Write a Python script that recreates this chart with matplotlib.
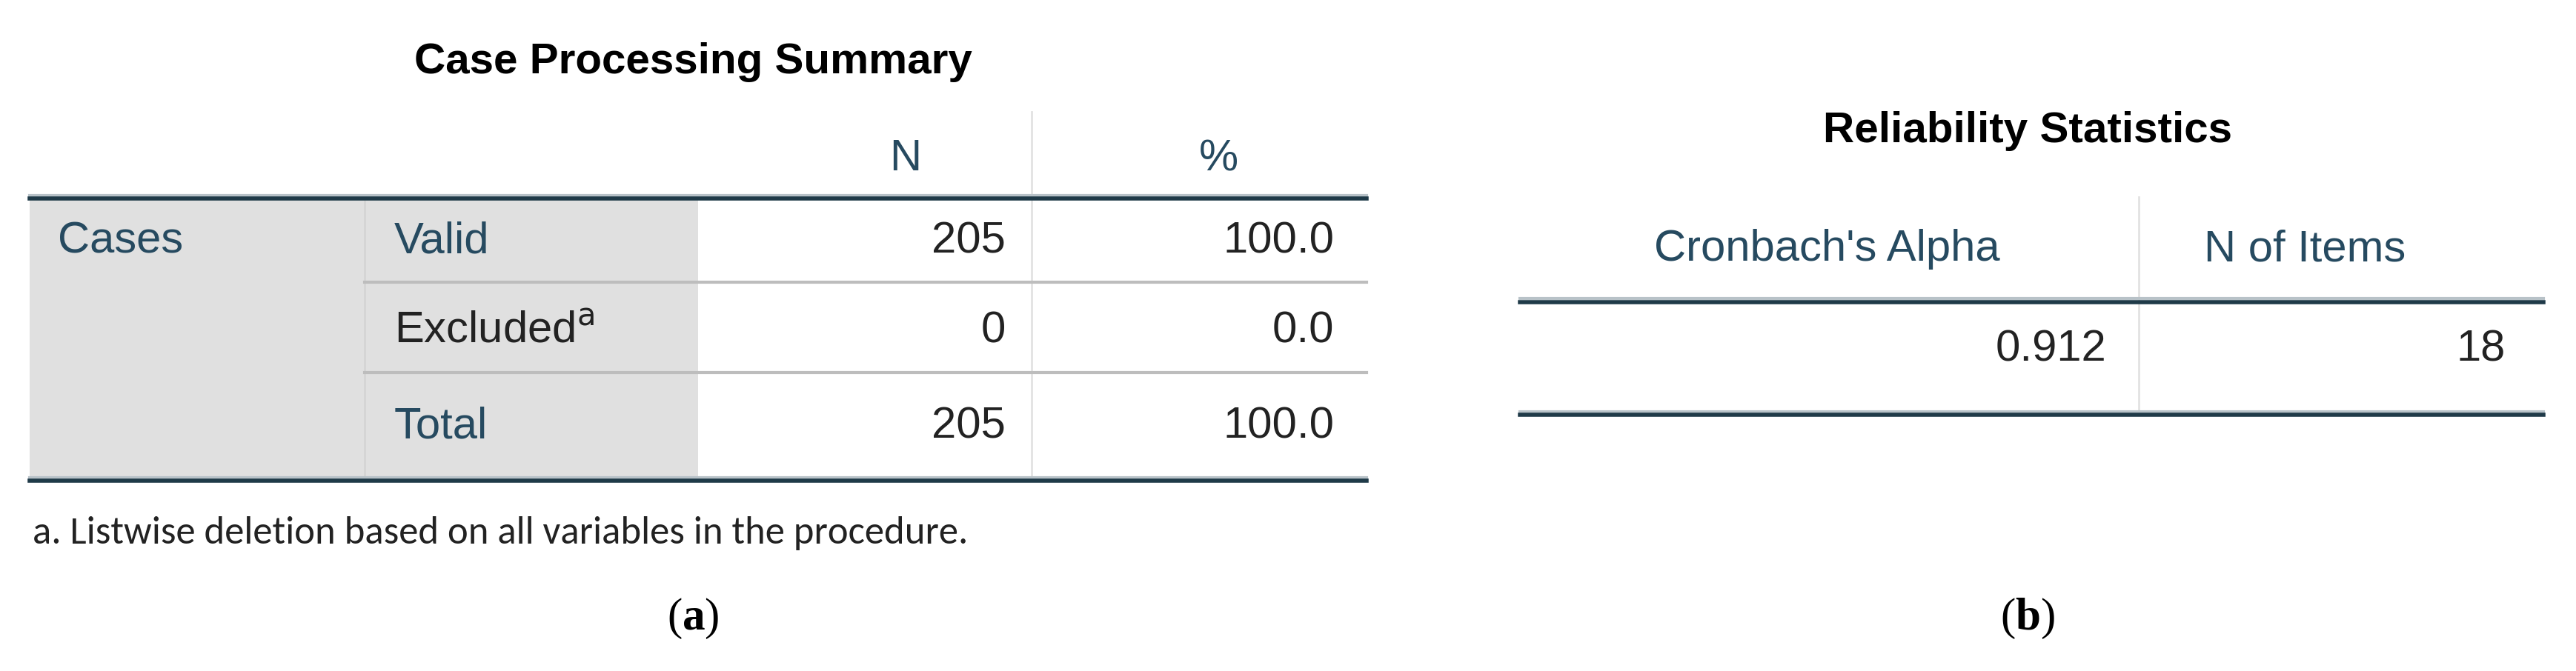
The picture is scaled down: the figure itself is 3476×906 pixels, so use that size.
import matplotlib
matplotlib.use("Agg")
import matplotlib.pyplot as plt
from matplotlib.patches import Rectangle

plt.rcParams['font.family'] = ['Liberation Sans', 'DejaVu Sans']
plt.rcParams['mathtext.fontset'] = 'custom'
plt.rcParams['mathtext.rm'] = 'Liberation Serif'
plt.rcParams['mathtext.bf'] = 'Liberation Serif:bold'

title_a = "Case Processing Summary"
cols_a = ["N", "%"]
row_group = "Cases"
rows_a = ["Valid", "Excluded", "Total"]
n_vals = ["205", "0", "205"]
pct_vals = ["100.0", "0.0", "100.0"]
footnote = "a. Listwise deletion based on all variables in the procedure."
title_b = "Reliability Statistics"
cols_b = ["Cronbach's Alpha", "N of Items"]
vals_b = ["0.912", "18"]

TEAL = "#264a60"
DARK = "#1f3a48"
GRAY = "#e0e0e0"
LINE = "#bdbdbd"

fig = plt.figure(figsize=(34.76, 9.06), dpi=100)
ax = fig.add_axes([0, 0, 1, 1])
ax.set_xlim(0, 1568)
ax.set_ylim(409, 0)
ax.axis('off')

fs = 43
# Panel a
ax.text(422, 38, title_a, ha='center', va='center', fontsize=42, fontweight='bold')
ax.add_patch(Rectangle((18, 120), 425 - 18, 292 - 120, color=GRAY, lw=0))
ax.plot([222, 222], [120, 292], color="#d4d4d4", lw=2)
ax.plot([628, 628], [68, 292], color="#e2e2e2", lw=2)
ax.text(551, 97, cols_a[0], ha='center', va='center', fontsize=fs, color=TEAL)
ax.text(742, 97, cols_a[1], ha='center', va='center', fontsize=fs, color=TEAL)
ax.plot([18, 832], [119, 119], color="#b8c2c8", lw=3)
ax.plot([18, 832], [121, 121], color=DARK, lw=4)
for y in [172, 227]:
    ax.plot([222, 832], [y, y], color=LINE, lw=3)
row_y = [147, 202, 260]
ax.text(35, 147, row_group, ha='left', va='center', fontsize=fs, color=TEAL)
for i, (lab, n, p) in enumerate(zip(rows_a, n_vals, pct_vals)):
    y = row_y[i]
    if lab == "Excluded":
        ax.text(240, y, lab + "$^{\\mathsf{a}}$", ha='left', va='center', fontsize=fs, color='#222222')
    else:
        ax.text(240, y, lab, ha='left', va='center', fontsize=fs, color=TEAL)
    ax.text(612, y, n, ha='right', va='center', fontsize=fs, color='#222222')
    ax.text(812, y, p, ha='right', va='center', fontsize=fs, color='#222222')
ax.plot([18, 832], [291, 291], color="#b8c2c8", lw=3)
ax.plot([18, 832], [293, 293], color=DARK, lw=4)
ax.text(20, 325, footnote, ha='left', va='center', fontsize=38, color='#222222',
        family=['Carlito', 'Liberation Sans', 'DejaVu Sans'])
ax.text(422, 377, r"($\mathbf{a}$)", ha='center', va='center', fontsize=44, family='Liberation Serif')

# Panel b
ax.text(1234, 80, title_b, ha='center', va='center', fontsize=42, fontweight='bold')
ax.plot([1302, 1302], [120, 252], color="#e2e2e2", lw=2)
ax.text(1112, 152, cols_b[0], ha='center', va='center', fontsize=fs, color=TEAL)
ax.text(1403, 152, cols_b[1], ha='center', va='center', fontsize=fs, color=TEAL)
ax.plot([925, 1548], [182, 182], color="#b8c2c8", lw=3)
ax.plot([925, 1548], [184, 184], color=DARK, lw=4)
ax.text(1282, 213, vals_b[0], ha='right', va='center', fontsize=fs, color='#222222')
ax.text(1525, 213, vals_b[1], ha='right', va='center', fontsize=fs, color='#222222')
ax.plot([925, 1548], [251, 251], color="#b8c2c8", lw=3)
ax.plot([925, 1548], [253, 253], color=DARK, lw=4)
ax.text(1234, 377, r"($\mathbf{b}$)", ha='center', va='center', fontsize=44, family='Liberation Serif')

fig.savefig("out.png", dpi=100)
